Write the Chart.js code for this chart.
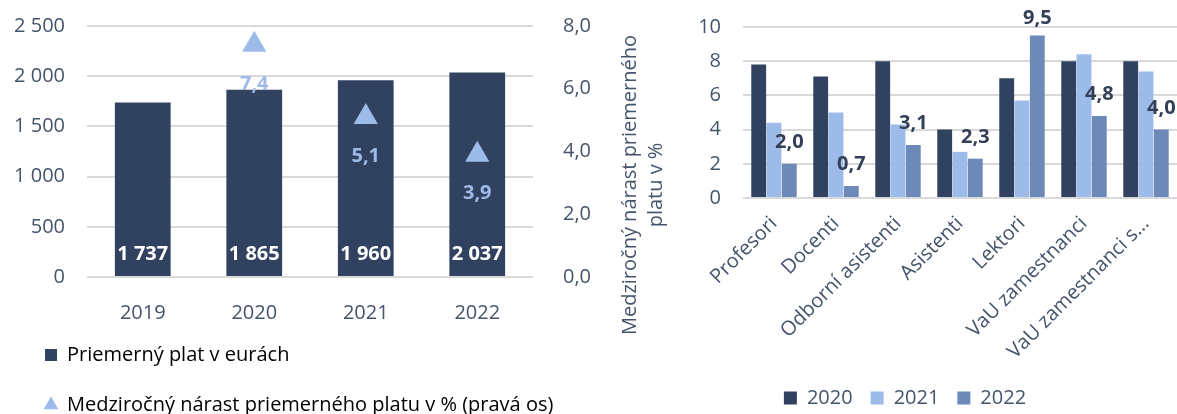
<html>
<head>
<title>Priemerný plat</title>
<script src="https://cdn.jsdelivr.net/npm/chart.js@4.4.0/dist/chart.umd.min.js"></script>
<style>
  body { margin: 0; background: #ffffff; overflow: hidden; }
  #leftBox { position: absolute; left: 0; top: 0; width: 600px; height: 440px; }
  #rightBox { position: absolute; left: 600px; top: 0; width: 577px; height: 418px; }
</style>
</head>
<body>
<div id="leftBox"><canvas id="salaryChart" width="600" height="440"></canvas></div>
<div id="rightBox"><canvas id="growthChart" width="577" height="418"></canvas></div>
<script>
// data
var years = ['2019', '2020', '2021', '2022'];
var avgSalary = [1737, 1865, 1960, 2037];
var salaryGrowth = [null, 7.4, 5.1, 3.9];

var categories = ['Profesori', 'Docenti', 'Odborní asistenti', 'Asistenti', 'Lektori', 'VaU zamestnanci', 'VaU zamestnanci s...'];
var seriesNames = ['2020', '2021', '2022'];
var growth2020 = [7.8, 7.1, 8.0, 4.0, 7.0, 8.0, 8.0];
var growth2021 = [4.4, 5.0, 4.3, 2.7, 5.7, 8.4, 7.4];
var growth2022 = [2.0, 0.7, 3.1, 2.3, 9.5, 4.8, 4.0];

var navy = '#30425f';
var light = '#9dbbe9';
var mid = '#6d89b8';
var textColor = '#44546a';
var gridColor = '#d9d9d9';
var fontFamily = '"Open Sans", "Noto Sans", sans-serif';

Chart.defaults.font.family = fontFamily;
Chart.defaults.font.size = 20;
Chart.defaults.color = textColor;

function thousands(v) {
    return String(v).replace(/\B(?=(\d{3})+(?!\d))/g, ' ');
}
function comma(v, d) {
    return v.toFixed(d).replace('.', ',');
}
// fixed axis width, and no extra top/bottom room from the tick padding
function fixWidth(w) {
    return function(s) {
        s.width = w;
        s.paddingTop = 0;
        s.paddingBottom = 0;
    };
}

// value labels for the left chart
var salaryLabels = {
    id: 'salaryLabels',
    afterLayout: function(chart) {
        // pull the two-row legend up a bit, the axis keeps room for its labels
        chart.legend.top -= 15;
        chart.legend.bottom -= 15;
    },
    afterDatasetsDraw: function(chart) {
        var ctx = chart.ctx;
        ctx.save();
        ctx.font = 'bold 20px ' + fontFamily;
        ctx.textAlign = 'center';
        ctx.textBaseline = 'middle';
        chart.getDatasetMeta(0).data.forEach(function(el, i) {
            ctx.fillStyle = '#ffffff';
            ctx.fillText(thousands(avgSalary[i]), el.x, el.base - 22);
        });
        chart.getDatasetMeta(1).data.forEach(function(el, i) {
            if (salaryGrowth[i] === null) return;
            ctx.fillStyle = light;
            ctx.fillText(comma(salaryGrowth[i], 1), el.x, el.y + 39);
        });
        ctx.restore();
    }
};

new Chart(document.getElementById('salaryChart'), {
    type: 'bar',
    data: {
        labels: years,
        datasets: [{
            label: 'Priemerný plat v eurách',
            data: avgSalary,
            backgroundColor: navy,
            barPercentage: 0.5,
            categoryPercentage: 1,
            yAxisID: 'y',
            order: 2
        }, {
            type: 'line',
            label: 'Medziročný nárast priemerného platu v % (pravá os)',
            data: salaryGrowth,
            showLine: false,
            pointStyle: 'triangle',
            pointRadius: 14,
            backgroundColor: light,
            borderColor: light,
            borderWidth: 0,
            yAxisID: 'y1',
            order: 1
        }]
    },
    options: {
        responsive: false,
        animation: false,
        layout: { padding: { top: 26, left: 15, right: 0, bottom: 0 } },
        plugins: {
            tooltip: { enabled: false },
            legend: {
                position: 'bottom',
                align: 'start',
                labels: {
                    usePointStyle: true,
                    boxWidth: 12,
                    boxHeight: 12,
                    padding: 30,
                    color: textColor,
                    font: { size: 20 },
                    generateLabels: function() {
                        return [
                            { text: 'Priemerný plat v eurách', fillStyle: navy, strokeStyle: navy, lineWidth: 0, pointStyle: 'rect', datasetIndex: 0 },
                            { text: 'Medziročný nárast priemerného platu v % (pravá os)', fillStyle: light, strokeStyle: light, lineWidth: 0, pointStyle: 'triangle', datasetIndex: 1 }
                        ];
                    }
                }
            }
        },
        scales: {
            x: {
                grid: { display: false },
                border: { display: false },
                ticks: { padding: 16 },
                afterFit: function(s) { s.height = 53; }
            },
            y: {
                position: 'left',
                min: 0, max: 2500,
                ticks: { stepSize: 500, padding: 22, callback: function(v) { return thousands(v); } },
                grid: { color: gridColor, lineWidth: 2, drawTicks: false },
                border: { display: false },
                afterFit: fixWidth(72)
            },
            y1: {
                position: 'right',
                min: 0, max: 8,
                ticks: { stepSize: 2, padding: 22, callback: function(v) { return comma(v, 1); } },
                grid: { display: false, drawOnChartArea: false },
                border: { display: false },
                afterFit: fixWidth(67)
            }
        }
    },
    plugins: [salaryLabels]
});

// labels on the 2022 bars and the two-line axis title
var growthLabels = {
    id: 'growthLabels',
    afterDatasetsDraw: function(chart) {
        var ctx = chart.ctx;
        ctx.save();
        ctx.font = 'bold 20px ' + fontFamily;
        ctx.fillStyle = '#323f57';
        ctx.textAlign = 'center';
        ctx.textBaseline = 'alphabetic';
        chart.getDatasetMeta(2).data.forEach(function(el, i) {
            ctx.fillText(comma(growth2022[i], 1), el.x, Math.max(el.y - 16, 24));
        });
        ctx.restore();
    },
    afterDraw: function(chart) {
        var ctx = chart.ctx;
        ctx.save();
        ctx.translate(30, 185);
        ctx.rotate(-Math.PI / 2);
        ctx.font = '20px ' + fontFamily;
        ctx.fillStyle = textColor;
        ctx.textAlign = 'center';
        ctx.textBaseline = 'middle';
        ctx.fillText('Medziročný nárast priemerného', 0, 0);
        ctx.fillText('platu v %', 0, 26);
        ctx.restore();
    }
};

new Chart(document.getElementById('growthChart'), {
    type: 'bar',
    data: {
        labels: categories,
        datasets: [
            { label: seriesNames[0], data: growth2020, backgroundColor: navy },
            { label: seriesNames[1], data: growth2021, backgroundColor: light },
            { label: seriesNames[2], data: growth2022, backgroundColor: mid }
        ]
    },
    options: {
        responsive: false,
        animation: false,
        layout: { padding: { top: 27, left: 33, right: 0, bottom: 0 } },
        datasets: { bar: { categoryPercentage: 0.74, barPercentage: 0.97 } },
        plugins: {
            tooltip: { enabled: false },
            legend: {
                position: 'bottom',
                labels: {
                    boxWidth: 13,
                    boxHeight: 13,
                    padding: 18,
                    color: textColor,
                    font: { size: 20 }
                }
            }
        },
        scales: {
            x: {
                grid: { display: false },
                border: { display: false },
                ticks: { minRotation: 45, maxRotation: 45, autoSkip: false, padding: 6 },
                afterFit: function(s) { s.height = 172; }
            },
            y: {
                min: 0, max: 10,
                ticks: { stepSize: 2, padding: 22 },
                grid: { color: gridColor, lineWidth: 2, drawTicks: false },
                border: { display: false },
                afterFit: fixWidth(110)
            }
        }
    },
    plugins: [growthLabels]
});
</script>
</body>
</html>
